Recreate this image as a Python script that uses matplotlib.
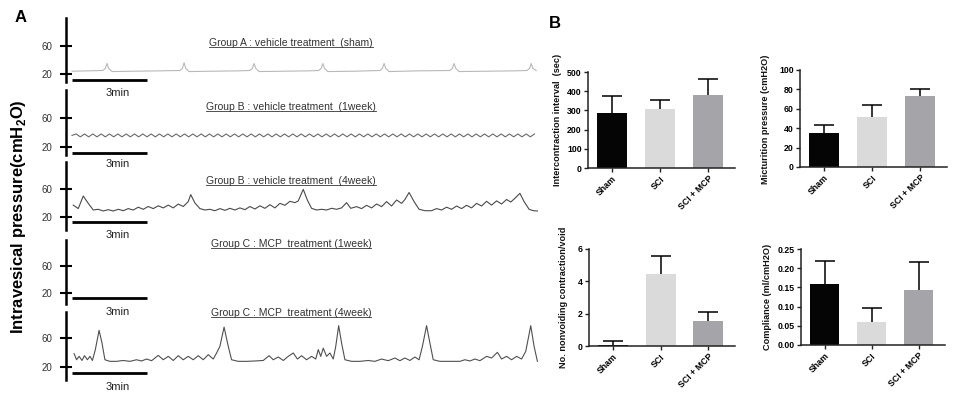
import matplotlib

matplotlib.use("Agg")
import matplotlib.pyplot as plt
import numpy as np
from matplotlib.lines import Line2D

plt.rcParams["font.family"] = ["Liberation Sans", "DejaVu Sans"]
plt.rcParams["mathtext.fontset"] = "custom"
plt.rcParams["mathtext.rm"] = "Liberation Sans"
plt.rcParams["mathtext.bf"] = "Liberation Sans:bold"

W, H = 958, 401

# ---- panel A: cystometry traces (time in s, pressure in cmH2O) ----
trace_titles = [
    "Group A : vehicle treatment  (sham)",
    "Group B : vehicle treatment  (1week)",
    "Group B : vehicle treatment  (4week)",
    "Group C : MCP  treatment (1week)",
    "Group C : MCP  treatment (4week)",
]

t_sham = [0, 40, 74, 80, 84, 88, 96, 150, 210, 259, 265, 269, 273, 281, 340, 400,
          427, 433, 437, 441, 449, 510, 570, 592, 598, 602, 606, 614, 680, 739, 745,
          749, 753, 761, 830, 907, 913, 917, 921, 929, 1000, 1060, 1092, 1098, 1102,
          1106, 1114]
p_sham = [24, 24.5, 25, 28, 35, 28, 23.5, 24, 24.5, 25, 28, 36, 28, 23.5, 24, 24.5,
          25, 28, 35, 28, 23.5, 24, 24.5, 25, 28, 35, 28, 23.5, 24, 25, 28,
          35, 28, 23.5, 24.5, 25, 28, 35, 28, 23.5, 24, 24.5, 25, 28, 35,
          28, 25]

t_1wk = [0, 10, 20, 30, 40, 50, 60, 70, 80, 90, 100, 110, 120, 130, 140, 150,
         160, 170, 180, 190, 200, 210, 220, 230, 240, 250, 260, 270, 280, 290, 300, 310,
         320, 330, 340, 350, 360, 370, 380, 390, 400, 410, 420, 430, 440, 450, 460, 470,
         480, 490, 500, 510, 520, 530, 540, 550, 560, 570, 580, 590, 600, 610, 620, 630,
         640, 650, 660, 670, 680, 690, 700, 710, 720, 730, 740, 750, 760, 770, 780, 790,
         800, 810, 820, 830, 840, 850, 860, 870, 880, 890, 900, 910, 920, 930, 940, 950,
         960, 970, 980, 990, 1000, 1010, 1020, 1030, 1040, 1050, 1060, 1070, 1080, 1090, 1100, 1110]
p_1wk = [36, 38, 34, 38, 34, 38, 34, 38, 34, 38, 34, 38, 34, 38, 34, 38,
         34, 38, 34, 38, 34, 38, 34, 38, 34, 38, 34, 38, 34, 38, 34, 38,
         34, 38, 34, 38, 34, 38, 34, 38, 34, 38, 34, 38, 34, 38, 34, 38,
         34, 38, 34, 38, 34, 38, 34, 38, 34, 38, 34, 38, 34, 38, 34, 38,
         34, 38, 34, 38, 34, 38, 34, 38, 34, 38, 34, 38, 34, 38, 34, 38,
         34, 38, 34, 38, 34, 38, 34, 38, 34, 38, 34, 38, 34, 38, 34, 38,
         34, 38, 34, 38, 34, 38, 34, 38, 34, 38, 34, 38, 34, 38, 34, 38]

t_4wk = [3, 15, 27, 39, 51, 63, 75, 87, 99, 111, 123, 135, 147, 159, 171, 183, 195,
         207, 219, 231, 243, 255, 267, 279, 285, 295, 307, 319, 331, 343, 355, 367, 379,
         391, 403, 415, 427, 439, 451, 463, 475, 487, 499, 511, 523, 535, 543, 555, 565,
         575, 587, 599, 611, 623, 635, 647, 659, 669, 683, 695, 707, 719, 731, 743, 755,
         767, 779, 791, 799, 809, 821, 833, 847, 863, 875, 887, 899, 911, 923, 935, 947,
         959, 971, 983, 995, 1007, 1019, 1031, 1043, 1053, 1063, 1075, 1085, 1097, 1107, 1117]
p_4wk = [37, 32, 50, 39.5, 30, 31, 28.6, 30.5, 28.6, 31, 29, 32, 30, 34, 31, 35, 32,
         36, 33, 37, 33, 38.5, 35, 42, 52, 40, 32, 30, 31, 29, 32, 29.5, 32.4,
         30, 33, 30.5, 35, 31.4, 36, 32.4, 37.6, 33, 39.5, 36.7, 42.4, 40.5, 43, 59.5, 44,
         32.4, 30, 31, 30, 32.4, 31, 33, 40.5, 32.4, 34.8, 32, 36.7, 33, 38.6, 34.8, 42,
         35.7, 44.3, 39.5, 45, 55, 42, 31, 29, 29, 32, 30, 34, 31, 35.7, 32, 36.7,
         33, 39.5, 35.7, 42.4, 37, 43, 38.6, 45, 41.4, 46.7, 53.8, 42, 31, 29, 28.6]

t_mcp4 = [5, 11, 17, 24, 30, 37, 43, 49, 56, 65, 72, 79, 91, 107, 123, 139, 155, 167,
          179, 191, 207, 219, 231, 243, 255, 267, 279, 291, 303, 315, 327, 339, 347, 355,
          365, 375, 383, 399, 419, 439, 459, 473, 483, 495, 507, 519, 531, 541, 551, 563,
          575, 585, 591, 597, 603, 611, 619, 627, 633, 640, 647, 655, 671, 691, 711, 727,
          743, 759, 775, 787, 799, 811, 823, 833, 841, 851, 859, 867, 883, 907, 931, 943,
          955, 967, 979, 995, 1007, 1021, 1031, 1043, 1055, 1067, 1079, 1089, 1101, 1109, 1117]
p_mcp4 = [38.4, 30, 34.7, 29, 35.6, 30, 34.7, 29, 44, 70.6, 53, 30, 27.8, 27.8, 29, 27.8, 30, 28.3,
          31, 28.7, 36, 30, 34.7, 29, 35.6, 30, 34.7, 30, 35.6, 30, 37, 31, 39.3, 48.5,
          75, 48.5, 30, 27.8, 27.8, 28.3, 29, 35.6, 30, 33.8, 29, 34.7, 39.3, 31, 35.6, 30,
          34.7, 31, 44, 34.7, 46, 34.7, 39.3, 31, 48.5, 77, 53, 30, 27.8, 27.8, 29, 27.8,
          31, 28.7, 32.4, 28.7, 32.4, 29, 33.8, 30, 48.5, 77, 53, 30, 27.8, 27.8, 27.8, 30,
          28.3, 31, 28.7, 34.7, 32.4, 40.2, 31, 34.7, 30, 34.7, 31, 41.6, 77, 48.5, 27.8]

traces = [(t_sham, p_sham), (t_1wk, p_1wk), (t_4wk, p_4wk), None, (t_mcp4, p_mcp4)]
trace_colors = ["#b8b8b8", "#6a6a6a", "#4a4a4a", None, "#505050"]

# ---- panel B: bar charts ----
groups = ["Sham", "SCI", "SCI + MCP"]
bar_colors = ["#050505", "#dadada", "#a4a4a9"]
interval_mean = [286, 309, 382]
interval_err = [87, 43, 83]
pressure_mean = [35, 52, 73]
pressure_err = [8.6, 12.4, 7.6]
nonvoid_mean = [0.06, 4.45, 1.55]
nonvoid_err = [0.27, 1.1, 0.54]
compliance_mean = [0.158, 0.059, 0.144]
compliance_err = [0.062, 0.038, 0.072]


def px_rect(left, top, right, bottom):
    return [left / W, 1 - bottom / H, (right - left) / W, (bottom - top) / H]


def fx(x):
    return x / W


def fy(y):
    return 1 - y / H


fig = plt.figure(figsize=(W / 100, H / 100), dpi=100)

# rows: top, bottom, y of 60 tick, y of 20 tick, scale bar y, "3min" y, title y
rows = [
    (18, 82, 46, 74, 80, 93, 43),
    (90, 155, 118, 147, 153, 164, 107),
    (162, 230, 189, 217, 222, 235, 181),
    (240, 304, 266, 293, 298, 312, 244),
    (312, 380, 338, 367, 373, 387, 313),
]
title_texts = []
for i, (top, bot, y60, y20, ybar, ylab, ytitle) in enumerate(rows):
    ax = fig.add_axes(px_rect(66, top, 545, bot))
    vpp = 40.0 / (y20 - y60)
    ax.set_ylim(20 - (bot - y20) * vpp, 60 + (y60 - top) * vpp)
    ax.set_xlim((66 - 72) * 2.4, (545 - 72) * 2.4)
    for s in ("top", "right", "bottom"):
        ax.spines[s].set_visible(False)
    ax.spines["left"].set_linewidth(1.8)
    ax.set_xticks([])
    ax.set_yticks([20, 60])
    ax.tick_params(axis="y", direction="inout", length=8, width=1.5, labelsize=7,
                   pad=6, labelcolor="#333333")
    ax.patch.set_visible(False)
    if traces[i] is not None:
        ax.plot(traces[i][0], traces[i][1], color=trace_colors[i], lw=0.8)
    vbar = 20 - (ybar - y20) * vpp
    ax.plot([0, 180], [vbar, vbar], color="black", lw=2, clip_on=False, solid_capstyle="butt")
    fig.text(fx(118), fy(ylab), "3min", fontsize=8, ha="center", va="center", color="#222222")
    title_texts.append(fig.text(fx(291), fy(ytitle), trace_titles[i], fontsize=7.5,
                                ha="center", va="center", color="#333333"))

fig.text(fx(21), fy(17), "A", fontsize=12, fontweight="bold", ha="center", va="center")
fig.text(fx(19), fy(217), r"Intravesical pressure(cmH$_\mathbf{2}$O)", fontsize=12,
         fontweight="bold", rotation=90, ha="center", va="center")
fig.text(fx(555), fy(24), "B", fontsize=12, fontweight="bold", ha="center", va="center")

charts = [
    ((588, 72, 735, 168), interval_mean, interval_err, 500, [0, 100, 200, 300, 400, 500],
     "{:.0f}", "Intercontraction interval  (sec)", 558, 120),
    ((800, 70, 947, 167), pressure_mean, pressure_err, 100, [0, 20, 40, 60, 80, 100],
     "{:.0f}", "Micturition pressure (cmH2O)", 765, 119),
    ((589, 249, 735, 346), nonvoid_mean, nonvoid_err, 6, [0, 2, 4, 6],
     "{:.0f}", "No. nonvoiding contraction/void", 564, 297),
    ((801, 249, 945, 345), compliance_mean, compliance_err, 0.25, [0, 0.05, 0.10, 0.15, 0.20, 0.25],
     "{:.2f}", "Compliance (ml/cmH2O)", 768, 297),
]
for box, means, errs, ymax, yticks, fmt, ylabel, lx, ly in charts:
    ax = fig.add_axes(px_rect(*box))
    x = list(range(len(groups)))
    ax.bar(x, means, width=0.63, color=bar_colors, zorder=2)
    _, caps, _ = ax.errorbar(x, means, yerr=[[0] * len(errs), errs], fmt="none",
                             ecolor="black", elinewidth=1.1, capsize=7, capthick=1.1, zorder=3)
    for cap in caps:
        if np.allclose(cap.get_ydata(), means):
            cap.set_visible(False)
    ax.set_xlim(-0.5, 2.56)
    ax.set_ylim(0, ymax)
    ax.set_yticks(yticks)
    ax.set_yticklabels([fmt.format(v) for v in yticks])
    ax.set_xticks(x)
    ax.set_xticklabels(groups, rotation=45, ha="right", rotation_mode="anchor")
    for s in ("top", "right"):
        ax.spines[s].set_visible(False)
    for s in ("left", "bottom"):
        ax.spines[s].set_linewidth(1.1)
        ax.spines[s].set_color("#222222")
    ax.tick_params(length=3, width=1, labelsize=6.3, pad=1.5, color="#222222")
    for lab in ax.get_xticklabels() + ax.get_yticklabels():
        lab.set_fontweight("bold")
    ax.patch.set_visible(False)
    fig.text(fx(lx), fy(ly), ylabel, fontsize=6.6, fontweight="bold", rotation=90,
             ha="center", va="center", color="#111111")

# underline the trace titles
fig.canvas.draw()
renderer = fig.canvas.get_renderer()
for t in title_texts:
    bb = t.get_window_extent(renderer)
    yline = (bb.y0 + 0.6) / fig.bbox.height
    fig.add_artist(Line2D([bb.x0 / fig.bbox.width, bb.x1 / fig.bbox.width], [yline, yline],
                          transform=fig.transFigure, color="#333333", lw=0.6))

fig.savefig("out.png", dpi=100)
plt.close(fig)
